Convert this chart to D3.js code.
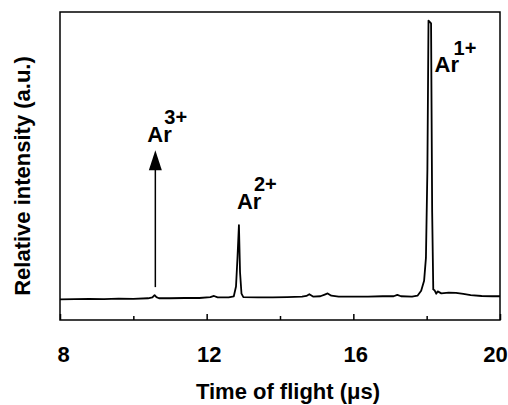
<!DOCTYPE html>
<html>
<head>
<meta charset="utf-8">
<script src="https://cdn.jsdelivr.net/npm/d3@7"></script>
<style>
  html, body { margin: 0; padding: 0; background: #fff; }
  svg { display: block; }
  text { font-family: "Liberation Sans", Arial, Helvetica, sans-serif; font-weight: bold; fill: #000; }
</style>
</head>
<body>
<svg id="chart" width="508" height="405"></svg>
<script>
// ---- data ----
const timeUs = [8.0, 8.4, 8.8, 9.2, 9.6, 10.0, 10.4, 10.52, 10.58, 10.63, 10.7, 11.0, 11.4, 11.8,
  12.1, 12.2, 12.3, 12.6, 12.74, 12.8, 12.84, 12.88, 12.91, 12.95, 13.0, 13.4, 13.8, 14.2,
  14.6, 14.72, 14.8, 14.9, 15.1, 15.22, 15.3, 15.4, 15.6, 16.0, 16.4, 16.8, 17.1, 17.2, 17.3,
  17.6, 17.75, 17.85, 17.93, 17.98, 18.02, 18.05, 18.12, 18.15, 18.18, 18.22, 18.26, 18.3,
  18.4, 18.6, 18.8, 19.0, 19.2, 19.5, 19.8, 20.0];
const intensity = [-0.5, -0.4, -0.3, -0.4, -0.2, -0.3, -0.1, 0.2, 1.0, 0.3, -0.1, -0.1, 0.0, 0.0,
  0.3, 0.7, 0.2, 0.2, 0.6, 4.0, 14.0, 25.5, 9.0, 1.5, 0.3, 0.2, 0.2, 0.3,
  0.5, 0.7, 1.3, 0.5, 0.6, 1.2, 1.6, 0.8, 0.5, 0.5, 0.5, 0.6, 0.6, 1.1, 0.6,
  0.5, 0.8, 2.5, 6.0, 14.0, 45.0, 97.0, 96.0, 30.0, 3.0, 2.6, 1.5, 2.3,
  1.6, 1.9, 1.8, 1.4, 1.0, 0.7, 0.6, 0.6];
const xTicks = [8, 10, 12, 14, 16, 18, 20];
const xTickLabels = [8, 12, 16, 20];
const ionNames = ["Ar", "Ar", "Ar"];
const ionCharges = ["3+", "2+", "1+"];
const ionTimes = [10.6, 12.88, 18.08];
const arrowFrom = 3.8, arrowTo = 51.7;   // Ar3+ arrow, in intensity units

// ---- layout ----
const svg = d3.select("#chart");
const L = 60, R = 500, T = 12, B = 320;
const x = d3.scaleLinear().domain([8, 20]).range([L, R]);
const y = d3.scaleLinear().domain([-7.7, 100]).range([B, T]);

// frame
svg.append("rect").attr("x", L).attr("y", T).attr("width", R - L).attr("height", B - T)
  .attr("fill", "none").attr("stroke", "#000").attr("stroke-width", 1.5);

// x axis ticks (pointing up, inside)
const axisG = svg.append("g").attr("transform", `translate(0,${B})`);
axisG.call(d3.axisBottom(x).tickValues(xTicks).tickSize(0).tickFormat(""));
axisG.select(".domain").remove();
axisG.selectAll(".tick").append("line")
  .attr("y1", 0).attr("y2", d => (xTickLabels.includes(d) ? -6 : -4))
  .attr("stroke", "#000").attr("stroke-width", 1.5);

// tick labels
const labG = svg.append("g").attr("transform", `translate(0,362)`);
labG.call(d3.axisBottom(x).tickValues(xTickLabels).tickSize(0).tickPadding(0).tickFormat(d3.format("d")));
labG.select(".domain").remove();
labG.selectAll(".tick text")
  .attr("y", 0).attr("dy", 0)
  .attr("dx", d => (d === 20 ? -5 : d === 8 ? 3 : 2))
  .style("font-size", "22px").style("font-family", '"Liberation Sans", Arial, sans-serif')
  .style("font-weight", "bold").attr("fill", "#000");

// axis titles
svg.append("text").attr("x", 288).attr("y", 399).attr("text-anchor", "middle")
  .style("font-size", "22px").text("Time of flight (\u03bcs)");
svg.append("text").attr("transform", "translate(30,176) rotate(-90)").attr("text-anchor", "middle")
  .style("font-size", "22px").text("Relative intensity (a.u.)");

// spectrum
const line = d3.line().x((d, i) => x(timeUs[i])).y(d => y(d));
svg.append("path").datum(intensity).attr("d", line)
  .attr("fill", "none").attr("stroke", "#000").attr("stroke-width", 1.8).attr("stroke-linejoin", "round");

// Ar3+ arrow
svg.append("line")
  .attr("x1", x(ionTimes[0])).attr("x2", x(ionTimes[0]))
  .attr("y1", y(arrowFrom)).attr("y2", y(arrowTo) + 19)
  .attr("stroke", "#000").attr("stroke-width", 1.5);
svg.append("path")
  .attr("d", `M${x(ionTimes[0])},${y(arrowTo)} l-6.5,20 l13,0 Z`).attr("fill", "#000");

// ion labels
const labelOffsets = [
  { ax: -8, ay: 142, sx: 17, sy: 124 },
  { ax: -2, ay: 209, sx: 17, sy: 191 },
  { ax: 5, ay: 72, sx: 19, sy: 55 }
];
ionNames.forEach((n, i) => {
  const px = x(ionTimes[i]);
  const o = labelOffsets[i];
  svg.append("text").attr("x", px + o.ax).attr("y", o.ay).style("font-size", "22px").text(n);
  svg.append("text").attr("x", px + o.ax + o.sx).attr("y", o.sy).style("font-size", "20px").text(ionCharges[i]);
});
</script>
</body>
</html>
